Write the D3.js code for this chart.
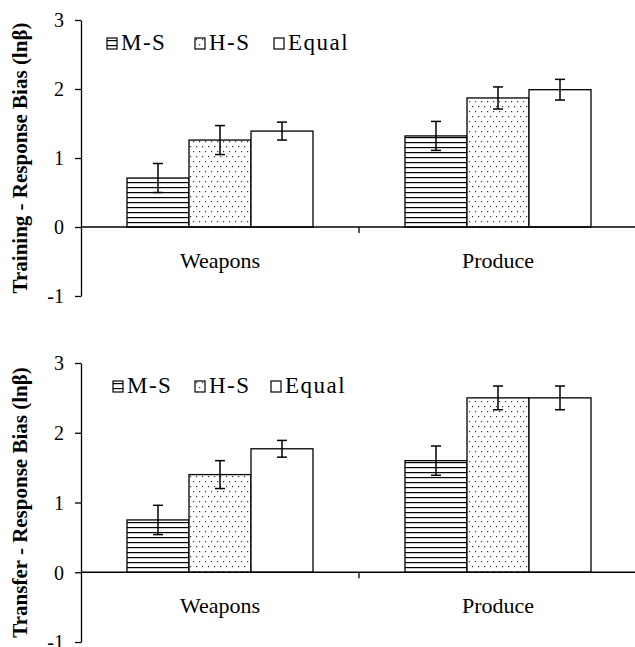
<!DOCTYPE html>
<html>
<head>
<meta charset="utf-8">
<script src="https://cdn.jsdelivr.net/npm/d3@7"></script>
</head>
<body style="margin:0">
<div id="fig"></div>
<script>
// data
let categories = ['Weapons', 'Produce'];
let series = ['M-S', 'H-S', 'Equal'];
let yTicks = [-1, 0, 1, 2, 3];

// training panel: means and error (+/-)
let trainMS = [0.71, 1.32];
let trainHS = [1.26, 1.87];
let trainEq = [1.39, 1.99];
let trainMSerr = [0.21, 0.21];
let trainHSerr = [0.21, 0.16];
let trainEqerr = [0.13, 0.15];

// transfer panel
let transMS = [0.75, 1.60];
let transHS = [1.40, 2.50];
let transEq = [1.77, 2.50];
let transMSerr = [0.21, 0.21];
let transHSerr = [0.20, 0.17];
let transEqerr = [0.12, 0.17];

let svgwidth = 635;
let svgheight = 647;

let svg = d3.select('#fig').append('svg')
    .attr('width', svgwidth)
    .attr('height', svgheight)
    .attr('font-family', 'Times New Roman');

// fill patterns
let defs = svg.append('defs');
let hp = defs.append('pattern')
    .attr('id', 'hlines')
    .attr('patternUnits', 'userSpaceOnUse')
    .attr('width', 6).attr('height', 5);
hp.append('rect').attr('width', 6).attr('height', 5).attr('fill', '#fff');
hp.append('rect').attr('y', 2).attr('width', 6).attr('height', 1.2).attr('fill', '#000');

let dp = defs.append('pattern')
    .attr('id', 'dots')
    .attr('patternUnits', 'userSpaceOnUse')
    .attr('width', 6).attr('height', 10);
dp.append('rect').attr('width', 6).attr('height', 10).attr('fill', '#fff');
dp.append('rect').attr('x', 1).attr('y', 1).attr('width', 1.2).attr('height', 1.2).attr('fill', '#333');
dp.append('rect').attr('x', 4).attr('y', 6).attr('width', 1.2).attr('height', 1.2).attr('fill', '#333');

let fills = {'M-S': 'url(#hlines)', 'H-S': 'url(#dots)', 'Equal': '#fff'};

let panels = [
    {
        label: 'Training - Response Bias (lnβ)',
        vals: [trainMS, trainHS, trainEq],
        errs: [trainMSerr, trainHSerr, trainEqerr],
        top: 20, bottom: 296,
        legendX: [107, 195, 274]
    },
    {
        label: 'Transfer - Response Bias (lnβ)',
        vals: [transMS, transHS, transEq],
        errs: [transMSerr, transHSerr, transEqerr],
        top: 363, bottom: 642,
        legendX: [113, 195, 271]
    }
];

let axisX = 81;

// put the serif face on a text selection, both as attribute and style
function serifText(sel, size) {
    sel.attr('font-family', 'Liberation Serif')
        .attr('font-size', size)
        .style('font-family', d => '"Liberation Serif"')
        .style('font-size', d => size);
    return sel;
}

panels.forEach(function(p) {
    let g = svg.append('g');

    let y = d3.scaleLinear().domain([-1, 3]).range([p.bottom, p.top]);
    let x0 = d3.scaleBand().domain(categories).range([axisX, axisX + 556]);
    let x1 = d3.scaleBand().domain(series).range([46, 232]);

    let rows = [];
    categories.forEach(function(c, ci) {
        series.forEach(function(s, si) {
            rows.push({cat: c, ser: s, v: p.vals[si][ci], e: p.errs[si][ci]});
        });
    });

    // bars
    g.selectAll('.bar')
        .data(rows)
        .enter()
        .append('rect')
        .attr('x', d => x0(d.cat) + x1(d.ser))
        .attr('y', d => y(d.v))
        .attr('width', x1.bandwidth())
        .attr('height', d => y(0) - y(d.v))
        .attr('fill', d => fills[d.ser])
        .attr('stroke', '#000')
        .attr('stroke-width', 1.3);

    // error bars
    let eb = g.selectAll('.err')
        .data(rows)
        .enter()
        .append('g')
        .attr('stroke', '#000')
        .attr('stroke-width', 1.5);
    let cx = d => x0(d.cat) + x1(d.ser) + x1.bandwidth() / 2;
    eb.append('line')
        .attr('x1', cx).attr('x2', cx)
        .attr('y1', d => y(d.v + d.e)).attr('y2', d => y(d.v - d.e));
    eb.append('line')
        .attr('x1', d => cx(d) - 5).attr('x2', d => cx(d) + 5)
        .attr('y1', d => y(d.v + d.e)).attr('y2', d => y(d.v + d.e));
    eb.append('line')
        .attr('x1', d => cx(d) - 5).attr('x2', d => cx(d) + 5)
        .attr('y1', d => y(d.v - d.e)).attr('y2', d => y(d.v - d.e));

    // y axis
    let yAxis = g.append('g')
        .attr('transform', `translate(${axisX}, 0)`)
        .call(d3.axisLeft(y).tickValues(yTicks).tickFormat(d => String(d))
            .tickSize(6).tickPadding(11).tickSizeOuter(0));
    yAxis.attr('font-family', 'Liberation Serif').attr('font-size', 20);
    yAxis.select('.domain').attr('stroke-width', 1.3);
    yAxis.selectAll('.tick line').attr('stroke-width', 1.3);
    serifText(yAxis.selectAll('.tick text'), '20px')
        .attr('dy', '0.34em');

    // x axis at zero
    let xAxis = g.append('g')
        .attr('transform', `translate(0, ${y(0)})`);
    xAxis.append('line')
        .attr('x1', axisX).attr('x2', svgwidth)
        .attr('stroke', '#000').attr('stroke-width', 1.3);
    xAxis.selectAll('.xt')
        .data(categories.slice(1))
        .enter()
        .append('line')
        .attr('x1', d => x0(d)).attr('x2', d => x0(d))
        .attr('y1', 0).attr('y2', 6)
        .attr('stroke', '#000').attr('stroke-width', 1.3);
    serifText(xAxis.selectAll('.xl')
        .data(categories)
        .enter()
        .append('text')
        .attr('x', d => x0(d) + x0.bandwidth() / 2)
        .attr('y', 41)
        .attr('text-anchor', 'middle')
        .text(d => d), '22px');

    // y label
    serifText(g.append('text')
        .attr('transform', `translate(27, ${(p.top + p.bottom) / 2}) rotate(-90)`)
        .attr('text-anchor', 'middle')
        .attr('font-weight', 'bold')
        .text(p.label), '21px');

    // legend
    let leg = g.selectAll('.leg')
        .data(series)
        .enter()
        .append('g')
        .attr('transform', (d, i) => `translate(${p.legendX[i]}, ${p.top + 18})`);
    leg.append('rect')
        .attr('width', 10).attr('height', 11)
        .attr('fill', d => fills[d])
        .attr('stroke', '#000').attr('stroke-width', 1.2);
    serifText(leg.append('text')
        .attr('x', 14).attr('y', 12)
        .attr('letter-spacing', '1.5px')
        .text(d => d), '23px');
});
</script>
</body>
</html>
